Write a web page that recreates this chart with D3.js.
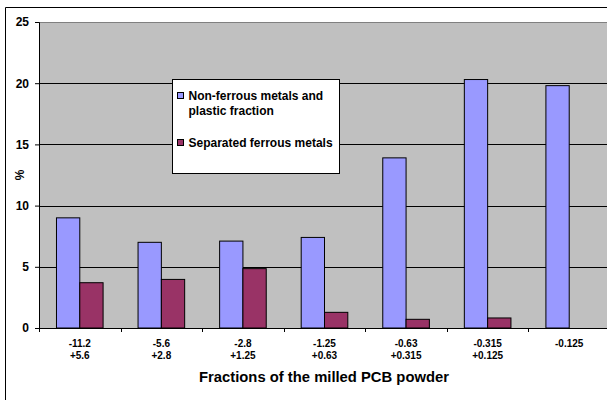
<!DOCTYPE html>
<html>
<head>
<meta charset="utf-8">
<script src="https://cdn.jsdelivr.net/npm/d3@7"></script>
<style>
  html, body { margin: 0; background: #fff; overflow: hidden; }
  svg { display: block; }
  text { font-family: "Liberation Sans", sans-serif; font-weight: bold; }
</style>
</head>
<body>
<div id="chart"></div>
<script>
'use strict';

// data
const fractions = [['-11.2', '+5.6'], ['-5.6', '+2.8'], ['-2.8', '+1.25'], ['-1.25', '+0.63'],
    ['-0.63', '+0.315'], ['-0.315', '+0.125'], ['-0.125']];
const nonFerrous = [9.0, 7.0, 7.1, 7.4, 13.9, 20.3, 19.8];
const ferrous = [3.7, 3.97, 4.85, 1.28, 0.71, 0.82, 0];
const legendLines = [['Non-ferrous metals and', 'plastic fraction'], ['Separated ferrous metals']];
const yTicks = [0, 5, 10, 15, 20, 25];

(function() {
    let width = 607, height = 400;
    let margin = {top: 22, left: 39, right: -3, bottom: 72};
    let colors = ['#9999FF', '#993366'];
    let font = '"Liberation Sans", sans-serif';

    let svg = d3.select('#chart').append('svg')
        .attr('width', width)
        .attr('height', height)
        .attr('font-family', font)
        .attr('font-weight', 'bold');

    // outer chart border (only top and left are inside the picture)
    svg.append('path')
        .attr('d', 'M5.5,' + height + 'V7.5H' + width)
        .attr('fill', 'none').attr('stroke', '#000');

    let pw = width - margin.left - margin.right,
        ph = height - margin.top - margin.bottom;

    let g = svg.append('g')
        .attr('transform', 'translate(' + margin.left + ',' + margin.top + ')');

    let x = d3.scaleBand().domain(d3.range(fractions.length)).range([0, pw]);
    // Excel gap width 75%: group of bars = band / 1.75
    let x1 = d3.scaleBand().domain([0, 1])
        .range([x.bandwidth() * 0.375 / 1.75, x.bandwidth() * (1 - 0.375 / 1.75)]);
    let y = d3.scaleLinear().domain([0, 25]).range([ph, 0]);

    g.append('rect')
        .attr('width', pw + 20).attr('height', ph)
        .attr('fill', '#C0C0C0');
    g.append('path')
        .attr('d', 'M0,0.5H' + (pw + 20))
        .attr('stroke', '#808080');

    g.selectAll('.grid')
        .data(yTicks.slice(1, -1))
        .enter().append('line')
        .attr('x1', 0).attr('x2', pw + 20)
        .attr('y1', d => Math.round(y(d)) + 0.5).attr('y2', d => Math.round(y(d)) + 0.5)
        .attr('stroke', '#000');

    let series = [nonFerrous, ferrous];
    series.forEach((vals, s) => {
        g.selectAll('.bar' + s)
            .data(vals)
            .enter().append('rect')
            .attr('x', (d, i) => x(i) + x1(s))
            .attr('y', d => y(d))
            .attr('width', x1.bandwidth())
            .attr('height', d => ph - y(d))
            .attr('fill', colors[s])
            .attr('stroke', d => d > 0 ? '#000' : 'none')
            .attr('stroke-width', 1);
    });

    // y axis
    let yAxis = g.append('g')
        .call(d3.axisLeft(y).tickValues(yTicks).tickSize(4).tickPadding(6));
    yAxis.attr('font-family', font).attr('font-weight', 'bold');
    yAxis.select('.domain').attr('stroke', '#000');
    yAxis.selectAll('text').attr('font-size', 12).attr('fill', '#000');

    // x axis
    let xAxisG = g.append('g').attr('transform', 'translate(0,' + ph + ')');
    xAxisG.append('line').attr('x1', 0).attr('x2', pw + 20).attr('y1', 0.5).attr('y2', 0.5).attr('stroke', '#000');
    xAxisG.selectAll('.tick')
        .data(d3.range(fractions.length + 1))
        .enter().append('line')
        .attr('x1', d => Math.round(d * x.bandwidth()) + 0.5)
        .attr('x2', d => Math.round(d * x.bandwidth()) + 0.5)
        .attr('y1', 0).attr('y2', 4)
        .attr('stroke', '#000');

    let labels = xAxisG.selectAll('.lbl')
        .data(fractions)
        .enter().append('text')
        .attr('text-anchor', 'middle')
        .attr('font-size', 10)
        .attr('fill', '#000');
    labels.selectAll('tspan')
        .data((d, i) => d.map(t => ({t: t, i: i})))
        .enter().append('tspan')
        .attr('x', d => x(d.i) + x.bandwidth() / 2)
        .attr('y', (d, j) => 18.5 + j * 12.5)
        .text(d => d.t);

    // axis titles
    svg.append('text')
        .attr('x', 324)
        .attr('y', 381.5)
        .attr('text-anchor', 'middle')
        .attr('font-size', 14.8)
        .text('Fractions of the milled PCB powder');

    svg.append('text')
        .attr('transform', 'translate(24,175) rotate(-90)')
        .attr('text-anchor', 'middle')
        .attr('font-size', 12)
        .text('%');

    // legend
    let leg = svg.append('g').attr('transform', 'translate(172.5,79.5)');
    leg.append('rect')
        .attr('width', 167).attr('height', 94)
        .attr('fill', '#fff').attr('stroke', '#000');
    let legY = [16, 63];
    legendLines.forEach((lines, s) => {
        leg.append('rect')
            .attr('x', 5).attr('y', legY[s] - 3)
            .attr('width', 6).attr('height', 6)
            .attr('fill', colors[s]).attr('stroke', '#000');
        leg.append('text')
            .attr('font-size', 12)
            .selectAll('tspan')
            .data(lines)
            .enter().append('tspan')
            .attr('x', 16)
            .attr('y', (d, j) => legY[s] + 4.5 + j * 15)
            .text(d => d);
    });
})();
</script>
</body>
</html>
